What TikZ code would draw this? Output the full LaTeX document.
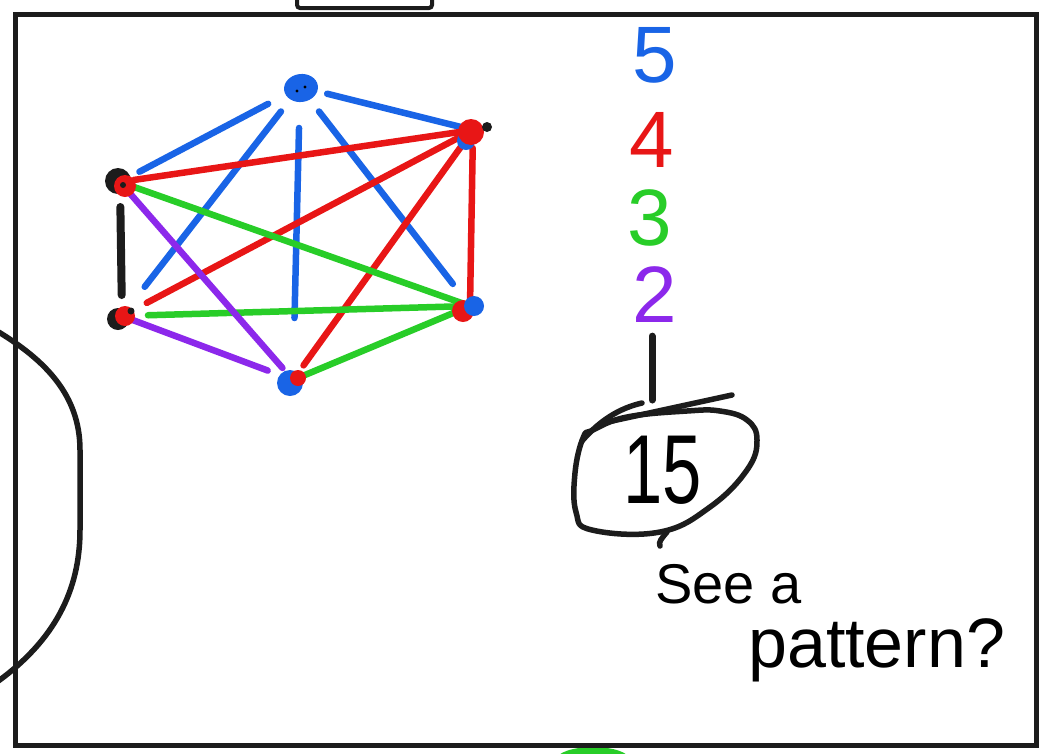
\documentclass[tikz,border=0pt]{standalone}
\usepackage{fontspec}
\setmainfont{Liberation Sans}
\newfontfamily\narrowfont[FakeStretch=0.72]{Liberation Sans}
\definecolor{hblue}{RGB}{25,100,230}
\definecolor{hred}{RGB}{232,22,22}
\definecolor{hgreen}{RGB}{40,205,40}
\definecolor{hpurple}{RGB}{140,40,235}
\definecolor{inkc}{RGB}{28,28,28}
\begin{document}
\begin{tikzpicture}[x=1pt,y=-1pt,
  edge/.style={line width=6.5pt, line cap=round},
  ink/.style={line width=5.5pt, line cap=round, line join=round, draw=inkc},
  dig/.style={inner sep=0pt, font=\fontsize{80}{80}\selectfont}]
\useasboundingbox (0,0) rectangle (1046,753);
\fill[white] (0,0) rectangle (1046,753);
% left arc
\draw[ink] (-3,331) .. controls (45,360) and (80,395) .. (80,450) -- (80,530) .. controls (80,590) and (55,640) .. (-3,682);
% green blob at the bottom
\fill[hgreen] (593,760) ellipse [x radius=37, y radius=13];
% frame
\draw[line width=5pt, draw=inkc] (15,14) rectangle (1036,745);
\draw[line width=4pt, draw=inkc, rounded corners=3pt] (297,-5) -- (297,8) -- (432,8) -- (432,-5);
% vertices
\coordinate (T) at (300,87);
\coordinate (UR) at (473,130);
\coordinate (LU) at (120,182);
\coordinate (LL) at (122,316);
\coordinate (RL) at (470,306);
\coordinate (B) at (293,380);
% blue edges
\draw[edge,hblue,shorten <=36pt,shorten >=22pt] (T) -- (LU);
\draw[edge,hblue,shorten <=31pt,shorten >=37pt] (T) -- (LL);
\draw[edge,hblue,shorten <=41pt,shorten >=62pt] (T) -- (B);
\draw[edge,hblue,shorten <=31pt,shorten >=28pt] (T) -- (RL);
\draw[edge,hblue,shorten <=28pt,shorten >=12pt] (T) -- (UR);
% red edges
\draw[edge,hred,shorten >=14pt] (UR) -- (LU);
\draw[edge,hred,shorten >=28pt] (UR) -- (LL);
\draw[edge,hred,shorten >=18pt] (UR) -- (B);
\draw[edge,hred,shorten <=18pt,shorten >=4pt] (UR) -- (RL);
% green edges
\draw[edge,hgreen,shorten <=12pt] (LU) -- (RL);
\draw[edge,hgreen,shorten <=26pt] (LL) -- (RL);
\draw[edge,hgreen,shorten <=6pt] (B) -- (RL);
% purple edges
\draw[edge,hpurple,shorten <=12pt,shorten >=16pt] (LU) -- (B);
\draw[edge,hpurple,shorten <=8pt,shorten >=27pt] (LL) -- (B);
% black edge
\draw[edge,line width=8pt,inkc,shorten <=25pt,shorten >=21pt] (LU) -- (LL);
% vertex blobs
\fill[hblue, rotate around={8:(301,88)}] (301,88) ellipse [x radius=17, y radius=14];
\fill[black] (297,91) circle [radius=1.6] (305,87) circle [radius=1.6];
\fill[hblue] (466,141) circle [radius=9];
\fill[hred] (471,132) circle [radius=13];
\fill[inkc] (487,127) circle [radius=5];
\fill[inkc] (118,181) circle [radius=13];
\fill[hred] (125,186) circle [radius=11];
\fill[inkc] (123,185) circle [radius=3];
\fill[inkc] (118,319) circle [radius=11];
\fill[hred] (125,316) circle [radius=10];
\fill[inkc] (131,311) circle [radius=3.5];
\fill[hred] (463,311) circle [radius=11];
\fill[hblue] (474,306) circle [radius=10];
\fill[hblue] (290,383) circle [radius=13];
\fill[hred] (298,378) circle [radius=8];
% numbers
\node[dig, text=hblue] (n5) at (655,55) {5};
\node[dig, text=hred] (n4) at (652,140) {4};
\node[dig, text=hgreen] (n3) at (650,218) {3};
\node[dig, text=hpurple] (n2) at (655,295) {2};
\coordinate (tick) at (652,400);
\draw[line width=7pt, draw=inkc, line cap=round] (n2.south) ++(-3,13) -- (tick);
% circled 15
\node[inner sep=0pt, font=\narrowfont\fontsize{98}{98}\selectfont] (n15) at (663,470) {15};
\draw[ink] plot[smooth cycle, tension=0.7] coordinates {(583,438) (575,473) (576,512) (592,530) (660,532) (710,507) (747,470) (757,440) (747,420) (720,411) (687,411) (627,417) (593,430)};
\draw[ink] (582,441) .. controls (600,420) and (620,408) .. (642,403);
\draw[ink] (603,423) -- (732,395);
\draw[ink] (667,532) .. controls (662,538) and (658,542) .. (660,546);
% text
\node[anchor=base west, inner sep=0pt, font=\fontsize{56}{56}\selectfont] (see) at (655,603) {See a};
\node[anchor=base west, inner sep=0pt, font=\fontsize{70}{70}\selectfont] (pat) at (748,667) {pattern?};
\end{tikzpicture}
\end{document}
